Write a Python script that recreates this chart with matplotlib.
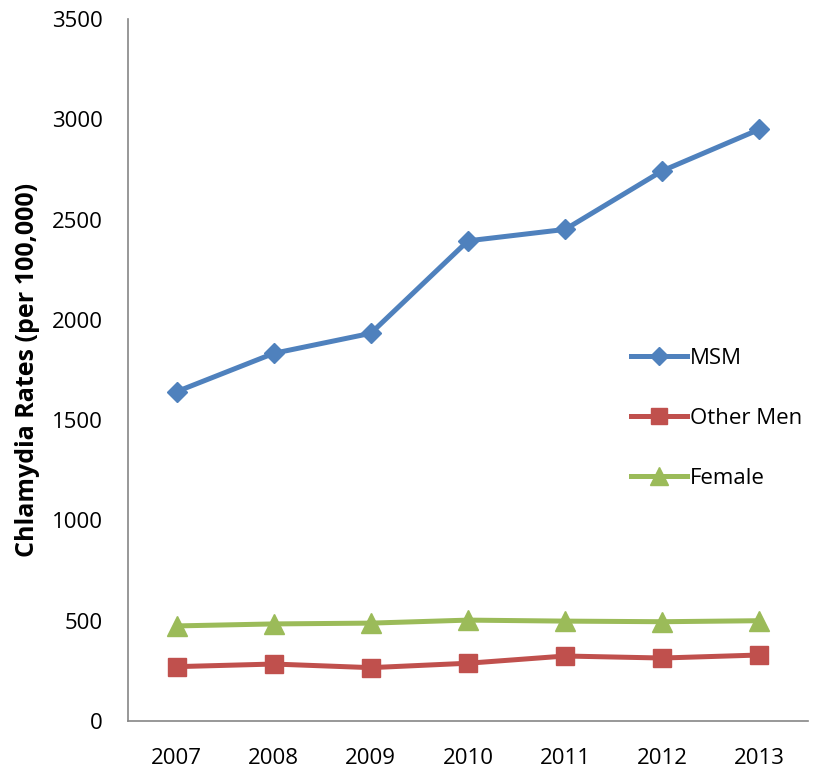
import matplotlib.pyplot as plt

# values
years = ['2007', '2008', '2009', '2010', '2011', '2012', '2013']
msm = [1642, 1833, 1933, 2394, 2451, 2743, 2950]
other_men = [271, 284, 266, 288, 324, 314, 329]
female = [474, 484, 488, 503, 498, 495, 500]
y_ticks = [0, 500, 1000, 1500, 2000, 2500, 3000, 3500]

plt.rcParams['font.family'] = ['Open Sans', 'DejaVu Sans']

W, H = 817, 769
fig = plt.figure(figsize=(W / 100, H / 100), dpi=100)
ax = fig.add_axes([128 / W, (H - 721) / H, 680 / W, 702 / H])

x = range(len(years))
ax.plot(x, msm, color='#4F81BD', lw=3.6, marker='D', markersize=10, label='MSM')
ax.plot(x, other_men, color='#C0504D', lw=3.6, marker='s', markersize=13, label='Other Men')
ax.plot(x, female, color='#9BBB59', lw=3.6, marker='^', markersize=14, label='Female')

ax.set_xlim(-0.5, len(years) - 0.5)
ax.set_ylim(0, 3500)
ax.set_xticks(list(x))
ax.set_xticklabels(years)
ax.set_yticks(y_ticks)

for side in ['top', 'right']:
    ax.spines[side].set_visible(False)
for side in ['left', 'bottom']:
    ax.spines[side].set_color('#868686')
    ax.spines[side].set_linewidth(1.2)

ax.tick_params(axis='both', length=0, labelsize=16)
ax.tick_params(axis='y', pad=18)
ax.tick_params(axis='x', pad=19.5)

ax.set_ylabel('Chlamydia Rates (per 100,000)', fontsize=18, fontweight='bold')
ax.yaxis.set_label_coords((40 - 128) / 680, 0.5)

# legend sits inside the plot on the right
ax.legend(loc='upper left', bbox_to_anchor=(631 / W, (H - 348) / H),
          bbox_transform=fig.transFigure, frameon=False, fontsize=16,
          handlelength=2.5, handletextpad=0.15, labelspacing=1.75,
          borderpad=0, borderaxespad=0, markerscale=0.9)

fig.savefig('out.png', dpi=100)
